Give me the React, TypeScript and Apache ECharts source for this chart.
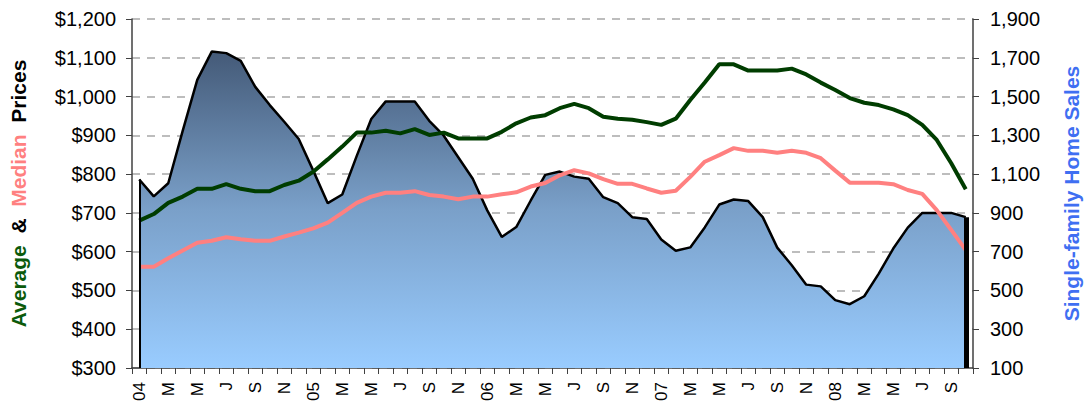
import React, { useEffect, useRef } from "react";
import * as echarts from "echarts";

// Monthly categories, Jan 2004 – Oct 2008 (year label on January)
const months = [
  "04", "F", "M", "A", "M", "J", "J", "A", "S", "O", "N", "D",
  "05", "F", "M", "A", "M", "J", "J", "A", "S", "O", "N", "D",
  "06", "F", "M", "A", "M", "J", "J", "A", "S", "O", "N", "D",
  "07", "F", "M", "A", "M", "J", "J", "A", "S", "O", "N", "D",
  "08", "F", "M", "A", "M", "J", "J", "A", "S", "O",
];

// Single-family home sales (right axis)
const sales = [
  1072, 985, 1053, 1324, 1586, 1732, 1724, 1684, 1550, 1456, 1370, 1281,
  1118, 950, 995, 1194, 1384, 1475, 1475, 1475, 1375, 1298, 1187, 1076,
  913, 776, 827, 964, 1096, 1113, 1087, 1076, 981, 950, 878, 868,
  763, 705, 722, 825, 943, 969, 961, 878, 721, 630, 530, 521,
  450, 429, 470, 587, 716, 824, 900, 900, 900, 878,
];

// Average price ($000s, left axis)
const averagePrice = [
  680, 697, 726, 742, 762, 762, 774, 762, 756, 756, 772, 783,
  806, 838, 871, 907, 907, 912, 905, 916, 901, 907, 892, 892,
  892, 909, 931, 946, 952, 970, 981, 970, 948, 943, 940, 934,
  927, 943, 991, 1036, 1083, 1083, 1067, 1067, 1067, 1072, 1057, 1036,
  1017, 996, 984, 978, 967, 952, 927, 888, 828, 761,
];

// Median price ($000s, left axis)
const medianPrice = [
  561, 561, 583, 603, 623, 628, 637, 632, 628, 628, 639, 649,
  660, 675, 700, 726, 742, 752, 752, 756, 746, 742, 735, 742,
  742, 748, 753, 768, 777, 797, 810, 802, 787, 775, 775, 763,
  752, 757, 793, 832, 849, 867, 860, 860, 855, 860, 855, 841,
  809, 778, 778, 778, 774, 759, 749, 707, 656, 604,
];

const priceAxis = { min: 300, max: 1200, interval: 100 };
const salesAxis = { min: 100, max: 1900, interval: 200 };

const FONT = "'Liberation Sans', Arial, sans-serif";

export default function App() {
  const ref = useRef<HTMLDivElement>(null);

  useEffect(() => {
    if (!ref.current) return;
    const chart = echarts.init(ref.current, undefined, { renderer: "svg" });
    const last = sales.length - 1;
    chart.setOption({
      animation: false,
      textStyle: { fontFamily: FONT },
      grid: { left: 132, right: 110, top: 19, bottom: 42, containLabel: false },
      xAxis: {
        type: "category",
        data: months,
        boundaryGap: true,
        axisLine: { lineStyle: { color: "#404040", width: 1.5 } },
        axisTick: { show: true, interval: 0, length: 6, lineStyle: { color: "#404040" } },
        axisLabel: {
          interval: 1,
          rotate: 90,
          margin: 14,
          color: "#000",
          fontSize: 17,
          fontFamily: FONT,
        },
        splitLine: { show: false },
      },
      yAxis: [
        {
          type: "value",
          min: priceAxis.min,
          max: priceAxis.max,
          interval: priceAxis.interval,
          position: "left",
          axisLine: { show: true, lineStyle: { color: "#404040", width: 1.5 } },
          axisTick: { show: true, length: 6, lineStyle: { color: "#404040" } },
          axisLabel: {
            color: "#000",
            fontSize: 20,
            fontFamily: FONT,
            margin: 16,
            formatter: (v: number) => "$" + v.toLocaleString("en-US"),
          },
          splitLine: {
            show: true,
            lineStyle: { color: "#a8a8a8", width: 1.5, type: [8, 7] },
          },
          name: "{g|Average}  {k|&}  {p|Median}  {k|Prices}",
          nameLocation: "middle",
          nameRotate: 90,
          nameGap: 103,
          nameTextStyle: {
            fontFamily: FONT,
            fontWeight: "bold",
            fontSize: 21,
            rich: {
              g: { color: "#0b5a0b", fontWeight: "bold", fontSize: 21, fontFamily: FONT },
              k: { color: "#000000", fontWeight: "bold", fontSize: 21, fontFamily: FONT },
              p: { color: "#ff8080", fontWeight: "bold", fontSize: 21, fontFamily: FONT },
            },
          },
        },
        {
          type: "value",
          min: salesAxis.min,
          max: salesAxis.max,
          interval: salesAxis.interval,
          position: "right",
          axisLine: { show: true, lineStyle: { color: "#404040", width: 1.5 } },
          axisTick: { show: true, length: 6, lineStyle: { color: "#404040" } },
          axisLabel: {
            color: "#000",
            fontSize: 20,
            fontFamily: FONT,
            margin: 17,
            formatter: (v: number) => v.toLocaleString("en-US"),
          },
          splitLine: { show: false },
          name: "Single-family Home Sales",
          nameLocation: "middle",
          nameRotate: 90,
          nameGap: 88,
          nameTextStyle: {
            color: "#3f6ff2",
            fontWeight: "bold",
            fontSize: 21,
            fontFamily: FONT,
          },
        },
      ],
      series: [
        {
          name: "Single-family Home Sales",
          type: "line",
          yAxisIndex: 1,
          data: sales,
          showSymbol: false,
          symbol: "none",
          z: 1,
          lineStyle: { color: "#000", width: 2.5 },
          areaStyle: {
            opacity: 1,
            color: new echarts.graphic.LinearGradient(0, 0, 0, 1, [
              { offset: 0, color: "#445a78" },
              { offset: 0.5, color: "#7aa0c9" },
              { offset: 1, color: "#99ccff" },
            ]),
          },
          markLine: {
            silent: true,
            symbol: "none",
            label: { show: false },
            data: [
              [
                { coord: [0, salesAxis.min], lineStyle: { color: "#000", width: 2, type: "solid" } },
                { coord: [0, sales[0]] },
              ],
              [
                { coord: [last, salesAxis.min], lineStyle: { color: "#000", width: 5, type: "solid" } },
                { coord: [last, sales[last]] },
              ],
            ],
          },
        },
        {
          name: "Average",
          type: "line",
          yAxisIndex: 0,
          data: averagePrice,
          showSymbol: false,
          symbol: "none",
          z: 3,
          lineStyle: { color: "#003d00", width: 4 },
        },
        {
          name: "Median",
          type: "line",
          yAxisIndex: 0,
          data: medianPrice,
          showSymbol: false,
          symbol: "none",
          z: 3,
          lineStyle: { color: "#ff8080", width: 4 },
        },
      ],
    });
    return () => chart.dispose();
  }, []);

  return (
    <div
      ref={ref}
      style={{ position: "absolute", left: 0, top: 0, width: 1090, height: 410 }}
    />
  );
}
